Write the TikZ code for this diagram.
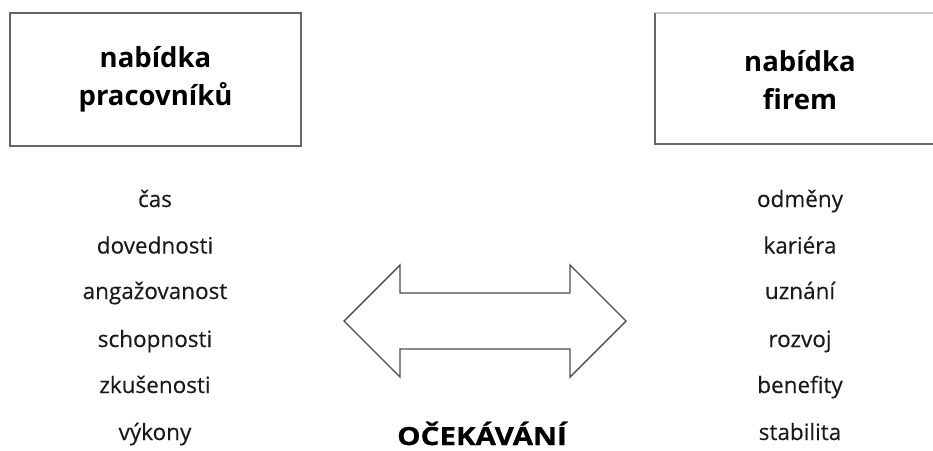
\documentclass[tikz,border=0pt]{standalone}
\usepackage{fontspec}
\setmainfont{Open Sans}
\newfontfamily\widebold[FakeStretch=1.18,FakeBold=0.8]{Open Sans}
\newfontfamily\itemfont[FakeBold=0.3]{Open Sans}
\begin{document}
\begin{tikzpicture}[x=1pt,y=-1pt,
  boxline/.style={draw=black!60,line width=2pt},
  head/.style={font=\bfseries\fontsize{27.5}{38.5}\selectfont,align=center,text=black},
  item/.style={font=\itemfont\fontsize{22.5}{26}\selectfont,text=black!90,anchor=base},
  arrowline/.style={draw=black!70,line width=1.4pt,line join=miter}]
\useasboundingbox (0,0) rectangle (933,450);
% left box
\node[boxline,minimum width=291pt,minimum height=133pt,inner sep=0pt] (lbox) at (155.5,79.5) {};
\node[head] (lhead) at (lbox.center) {nabídka\\pracovníků};
% right box (cut off on the right)
\coordinate (rtl) at (655,13);
\coordinate (rbl) at (655,144);
\coordinate (rtr) at (933,13);
\coordinate (rbr) at (933,144);
\draw[draw=black!20,line width=1.5pt] (rtl) -- (rtr);
\draw[boxline] (rtl) -- (rbl) -- (rbr);
\node[head] (rhead) at (800,80) {nabídka\\firem};
% left list
\node[item] (l1) at (155,207) {čas};
\node[item] (l2) at (155,253.5) {dovednosti};
\node[item] (l3) at (155,299) {angažovanost};
\node[item] (l4) at (155,347) {schopnosti};
\node[item] (l5) at (155,393) {zkušenosti};
\node[item] (l6) at (155,440) {výkony};
% right list
\node[item] (r1) at (800,207) {odměny};
\node[item] (r2) at (800,253.5) {kariéra};
\node[item] (r3) at (800,299) {uznání};
\node[item] (r4) at (800,347) {rozvoj};
\node[item] (r5) at (800,393) {benefity};
\node[item] (r6) at (800,440) {stabilita};
% double arrow
\draw[arrowline] (344,321) -- (400,265) -- (400,293) -- (570,293) -- (570,265) -- (626,321)
  -- (570,377) -- (570,349) -- (400,349) -- (400,377) -- cycle;
\node[font=\widebold\bfseries\fontsize{25}{28}\selectfont,text=black,anchor=base,text depth=0pt,inner ysep=0pt] (oc) at (482,445) {OČEKÁVÁNÍ};
\end{tikzpicture}
\end{document}
